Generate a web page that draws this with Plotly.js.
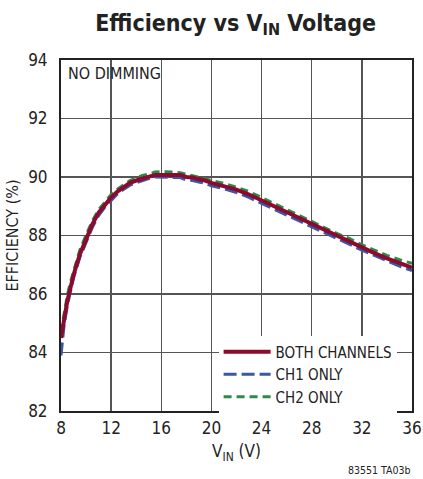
<!DOCTYPE html>
<html><head><meta charset="utf-8">
<script src="https://cdn.plot.ly/plotly-3.0.1.min.js"></script>
<style>html,body{margin:0;padding:0;background:#fff}#c{width:423px;height:479px}</style>
</head><body><div id="c"></div>
<script>
var vin = [8, 8.25, 8.5, 8.75, 9, 9.5, 10, 10.5, 11, 11.5, 12, 12.5, 13, 13.5, 14, 14.5, 15, 15.5, 16, 16.5, 17, 17.5, 18, 18.5, 19, 19.5, 20, 21, 22, 23, 24, 25, 26, 27, 28, 29, 30, 31, 32, 33, 34, 35, 36];
var effBoth = [84.5, 85.2, 85.75, 86.2, 86.65, 87.35, 87.9, 88.38, 88.78, 89.05, 89.3, 89.5, 89.65, 89.8, 89.88, 89.95, 90.0, 90.07, 90.07, 90.07, 90.07, 90.07, 90.0, 89.98, 89.92, 89.88, 89.8, 89.7, 89.57, 89.4, 89.2, 89.0, 88.8, 88.6, 88.38, 88.17, 87.97, 87.8, 87.58, 87.4, 87.22, 87.05, 86.9];
var effCh1 = [83.9, 84.95, 85.6, 86.1, 86.55, 87.25, 87.8, 88.28, 88.68, 88.97, 89.2, 89.42, 89.58, 89.72, 89.8, 89.88, 89.95, 90.0, 90.0, 90.0, 90.0, 89.98, 89.9, 89.88, 89.83, 89.78, 89.7, 89.6, 89.47, 89.3, 89.1, 88.9, 88.7, 88.5, 88.3, 88.08, 87.88, 87.7, 87.5, 87.32, 87.13, 86.95, 86.8];
var effCh2 = [84.7, 85.4, 85.95, 86.4, 86.8, 87.5, 88.02, 88.5, 88.88, 89.15, 89.4, 89.58, 89.73, 89.88, 89.97, 90.05, 90.1, 90.17, 90.18, 90.18, 90.17, 90.15, 90.1, 90.05, 90.0, 89.95, 89.88, 89.78, 89.65, 89.5, 89.3, 89.1, 88.9, 88.7, 88.48, 88.27, 88.07, 87.9, 87.68, 87.5, 87.32, 87.17, 87.05];
var seriesNames = ["BOTH CHANNELS", "CH1 ONLY", "CH2 ONLY"];
var xTicks = [8, 12, 16, 20, 24, 28, 32, 36];
var yTicks = [82, 84, 86, 88, 90, 92, 94];

var FONT = "'DejaVu Sans Condensed', 'Liberation Sans', Arial, sans-serif";
var traces = [
  {x: vin, y: effCh2, name: seriesNames[2], mode: "lines", line: {color: "#2e8b45", width: 3, dash: "8px,5px"}},
  {x: vin, y: effCh1, name: seriesNames[1], mode: "lines", line: {color: "#3a57a8", width: 3, dash: "13px,5px"}},
  {x: vin, y: effBoth, name: seriesNames[0], mode: "lines", line: {color: "#8c0a2e", width: 4}}
];
var axisCommon = {showgrid: true, gridcolor: "#555", gridwidth: 1.3, showline: true, linecolor: "#222", linewidth: 2, mirror: true, zeroline: false, ticks: "", tickfont: {family: FONT, size: 17, color: "#222"}};
var layout = {
  width: 423, height: 479,
  margin: {l: 61, r: 11, t: 60, b: 68},
  paper_bgcolor: "#fff", plot_bgcolor: "#fff",
  font: {family: FONT, color: "#222"},
  title: {text: "<b>Efficiency vs V<sub>IN</sub> Voltage</b>", font: {family: FONT, size: 23, color: "#222"}, x: 0.557, xanchor: "center", y: 0.953, yanchor: "middle"},
  xaxis: Object.assign({}, axisCommon, {range: [8, 36], tickvals: xTicks, ticktext: xTicks.map(String), ticklabelstandoff: 1, title: {text: "V<sub>IN</sub> (V)", font: {family: FONT, size: 17, color: "#222"}, standoff: 8}}),
  yaxis: Object.assign({}, axisCommon, {range: [82, 94], tickvals: yTicks, ticktext: yTicks.map(String), ticklabelstandoff: 8, title: {text: "EFFICIENCY (%)", font: {family: FONT, size: 16, color: "#222"}, standoff: 6}}),
  showlegend: true,
  legend: {x: 0.449, y: 0.215, xanchor: "left", yanchor: "top", bgcolor: "#fff", borderwidth: 0, traceorder: "reversed", font: {family: FONT, size: 15, color: "#222"}, itemwidth: 47, tracegroupgap: 0},
  annotations: [
    {text: "NO DIMMING", xref: "paper", yref: "paper", x: 0.015, y: 0.995, xanchor: "left", yanchor: "top", showarrow: false, font: {family: FONT, size: 16, color: "#222"}},
    {text: "83551 TA03b", xref: "paper", yref: "paper", x: 1.0, y: -0.145, xanchor: "right", yanchor: "top", showarrow: false, font: {family: FONT, size: 10.5, color: "#222"}}
  ]
};
Plotly.newPlot("c", traces, layout, {displayModeBar: false, staticPlot: true});
</script></body></html>
